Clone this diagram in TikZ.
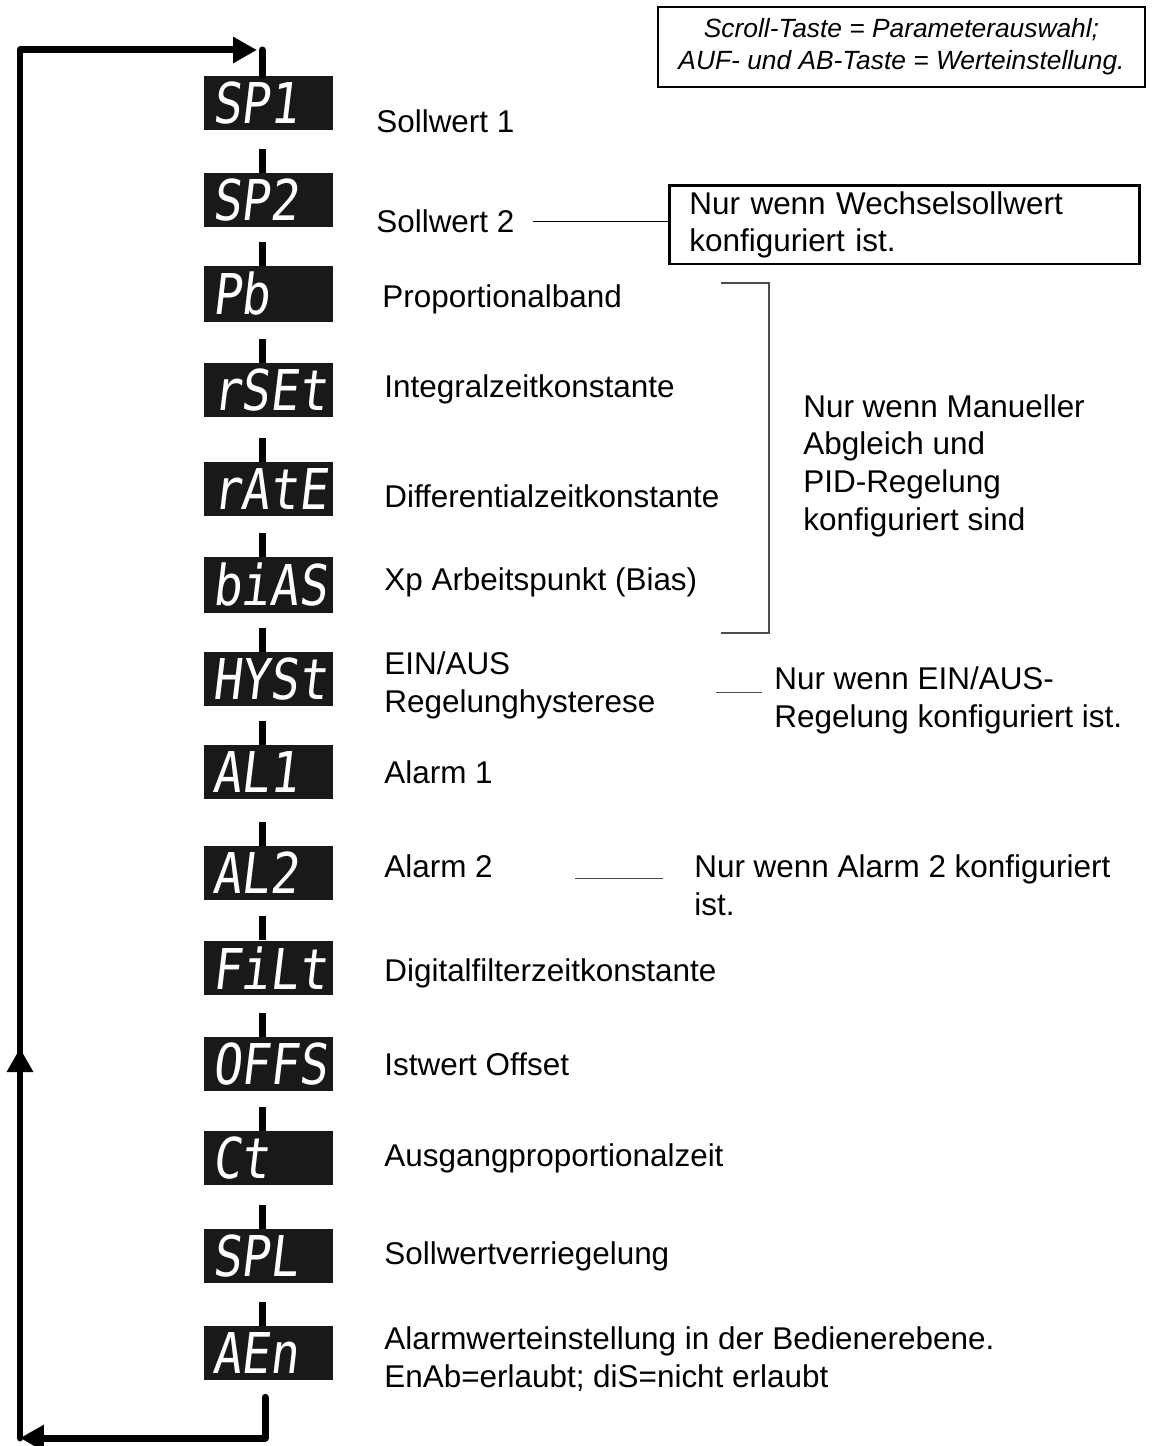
\documentclass[tikz,border=0pt]{standalone}
\usepackage{fontspec}
\setmainfont{Liberation Sans}
\newfontfamily\segfont[FakeStretch=0.85,FakeSlant=0.12]{DejaVu Sans Mono}
\usetikzlibrary{arrows.meta,calc}

\begin{document}
\begin{tikzpicture}[x=0.02cm,y=-0.02cm,
  every node/.style={font=\fontsize{17.9}{21.4}\selectfont},
  disp/.style={fill=black!90,text=white,minimum width=2.58cm,minimum height=1.08cm,
    inner xsep=0.16cm,text width=2.26cm,align=left,font=\segfont\fontsize{32}{32}\selectfont},
  stub/.style={line width=0.14cm},
  loopline/.style={line width=0.14cm,line cap=round,line join=round},
  lbl/.style={anchor=base west,inner sep=0pt,align=left},
  thinline/.style={line width=0.6pt},
  topbox/.style={draw,line width=1.2pt,minimum width=9.74cm,minimum height=1.6cm,
    align=center,font=\itshape\fontsize{15}{18.2}\selectfont},
  notebox/.style={draw,line width=1.6pt,minimum width=9.4cm,minimum height=1.52cm,
    text width=8.6cm,inner xsep=0.4cm,align=left}]
\useasboundingbox (0,0) rectangle (1152,1446);
% displays
\node[disp] (SP1) at (268.5,103) {SP1};
\node[disp] (SP2) at (268.5,200) {SP2};
\node[disp] (Pb) at (268.5,294) {Pb};
\node[disp] (rSEt) at (268.5,390) {rSEt};
\node[disp] (rAtE) at (268.5,489) {rAtE};
\node[disp] (biAS) at (268.5,585) {biAS};
\node[disp] (HYSt) at (268.5,679) {HYSt};
\node[disp] (AL1) at (268.5,772) {AL1};
\node[disp] (AL2) at (268.5,873) {AL2};
\node[disp] (FiLt) at (268.5,968) {FiLt};
\node[disp] (OFFS) at (268.5,1064) {OFFS};
\node[disp] (Ct) at (268.5,1158) {Ct};
\node[disp] (SPL) at (268.5,1256) {SPL};
\node[disp] (AEn) at (268.5,1353) {AEn};
% stubs
\draw[stub] ($(SP2.north)+(-6.5,0)$) -- ++(0,-24);
\draw[stub] ($(Pb.north)+(-6.5,0)$) -- ++(0,-24);
\draw[stub] ($(rSEt.north)+(-6.5,0)$) -- ++(0,-24);
\draw[stub] ($(rAtE.north)+(-6.5,0)$) -- ++(0,-24);
\draw[stub] ($(biAS.north)+(-6.5,0)$) -- ++(0,-24);
\draw[stub] ($(HYSt.north)+(-6.5,0)$) -- ++(0,-24);
\draw[stub] ($(AL1.north)+(-6.5,0)$) -- ++(0,-24);
\draw[stub] ($(AL2.north)+(-6.5,0)$) -- ++(0,-24);
\draw[stub] ($(FiLt.north)+(-6.5,0)$) -- ++(0,-24);
\draw[stub] ($(OFFS.north)+(-6.5,0)$) -- ++(0,-24);
\draw[stub] ($(Ct.north)+(-6.5,0)$) -- ++(0,-24);
\draw[stub] ($(SPL.north)+(-6.5,0)$) -- ++(0,-24);
\draw[stub] ($(AEn.north)+(-6.5,0)$) -- ++(0,-24);
% return loop
\coordinate (bl) at (20,1438);
\coordinate (tr) at (262,50);
\draw[loopline,-{Triangle[length=0.48cm,width=0.5cm]}] ($(AEn.south)+(-3.5,17)$) |- (bl);
\draw[loopline,-{Triangle[length=0.48cm,width=0.5cm]}] (bl) -- (20,1048);
\draw[loopline,-{Triangle[length=0.48cm,width=0.5cm]}] (20,1060) |- (257,50);
\draw[loopline] (tr) -- ($(SP1.north)+(-6.5,0)$);
% labels
\node[lbl] (lSP1) at (376,133) {Sollwert 1};
\node[lbl] (lSP2) at (376,233) {Sollwert 2};
\node[lbl] (lPb) at (382,307) {Proportionalband};
\node[lbl] (lrSEt) at (384,397) {Integralzeitkonstante};
\node[lbl] (lrAtE) at (384,507) {Differentialzeitkonstante};
\node[lbl] (lbiAS) at (384,590) {Xp Arbeitspunkt (Bias)};
\node[lbl] (lHYSt) at (384,712) {EIN/AUS\\Regelunghysterese};
\node[lbl] (lAL1) at (384,783) {Alarm 1};
\node[lbl] (lAL2) at (384,877) {Alarm 2};
\node[lbl] (lFiLt) at (384,981) {Digitalfilterzeitkonstante};
\node[lbl] (lOFFS) at (384,1075) {Istwert Offset};
\node[lbl] (lCt) at (384,1166) {Ausgangproportionalzeit};
\node[lbl] (lSPL) at (384,1264) {Sollwertverriegelung};
\node[lbl] (lAEn) at (384,1387) {Alarmwerteinstellung in der Bedienerebene.\\EnAb=erlaubt; diS=nicht erlaubt};
% notes
\node[topbox] (keys) at (901.5,47) {Scroll-Taste = Parameterauswahl;\\AUF- und AB-Taste = Werteinstellung.};
\node[notebox,anchor=north west] (wechsel) at (668,184) {Nur wenn Wechselsollwert\\konfiguriert ist.};
\draw[thinline] ([xshift=0.36cm]lSP2.east) -- (lSP2.east -| wechsel.west);
\node[lbl] (mannote) at (803,530) {Nur wenn Manueller\\Abgleich und\\PID-Regelung\\konfiguriert sind};
\draw[thinline,black!70] (721,283) -| (769,633) -- (721,633);
\node[lbl] (hysnote) at (774,727) {Nur wenn EIN/AUS-\\Regelung konfiguriert ist.};
\draw[thinline,black!70] ($(hysnote.west)+(-12,-8)$) -- ++(-46,0);
\node[lbl] (al2note) at (694,915) {Nur wenn Alarm 2 konfiguriert\\ist.};
\draw[thinline,black!70] ($(al2note.west)+(-31,-6)$) -- ++(-88,0);
\end{tikzpicture}
\end{document}
